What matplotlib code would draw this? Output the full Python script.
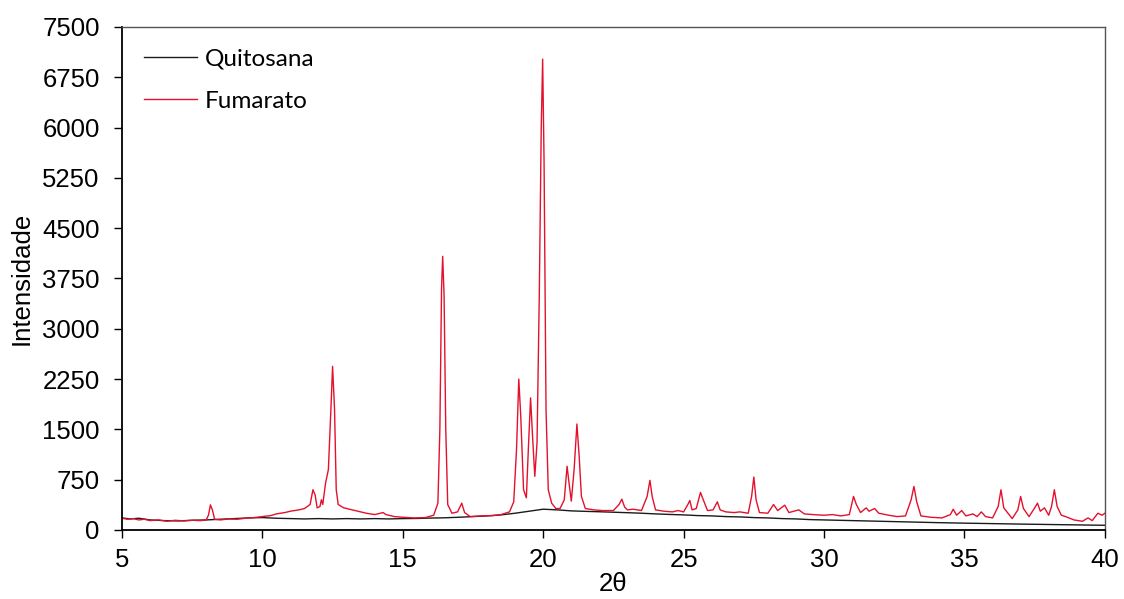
import matplotlib
matplotlib.use("Agg")
import matplotlib.pyplot as plt

# ---------------- data ----------------
fumarato_points = [
    (5.0, 175), (5.2, 160), (5.4, 170), (5.6, 150), (5.8, 160), (6.0, 140), (6.3, 150),
    (6.6, 130), (6.9, 145), (7.2, 135), (7.5, 145), (7.8, 140), (8.0, 150), (8.08, 220),
    (8.15, 375), (8.22, 300), (8.3, 160), (8.5, 150), (8.8, 165), (9.1, 160), (9.4, 175),
    (9.7, 185), (10.0, 200), (10.3, 215), (10.5, 240), (10.8, 260), (11.0, 280),
    (11.3, 300), (11.5, 320), (11.7, 380), (11.8, 600), (11.88, 520), (11.95, 330),
    (12.05, 350), (12.1, 450), (12.15, 380), (12.25, 700), (12.35, 900), (12.45, 1900),
    (12.5, 2440), (12.57, 1800), (12.63, 600), (12.7, 380), (12.9, 330), (13.1, 310),
    (13.4, 280), (13.7, 250), (14.0, 230), (14.3, 260), (14.4, 230), (14.7, 200),
    (15.0, 190), (15.4, 180), (15.8, 185), (16.1, 220), (16.25, 400), (16.32, 1500),
    (16.38, 3600), (16.42, 4080), (16.47, 3500), (16.53, 1500), (16.6, 380), (16.75, 250),
    (16.95, 270), (17.1, 400), (17.2, 260), (17.4, 200), (17.8, 210), (18.2, 215),
    (18.5, 230), (18.8, 270), (18.95, 420), (19.05, 1200), (19.13, 2250), (19.2, 1700),
    (19.3, 600), (19.4, 480), (19.47, 1200), (19.55, 1970), (19.62, 1400), (19.7, 800),
    (19.78, 1300), (19.86, 3500), (19.93, 6000), (19.98, 7020), (20.03, 5500),
    (20.1, 1800), (20.18, 600), (20.3, 400), (20.45, 320), (20.6, 320), (20.75, 450),
    (20.85, 950), (20.92, 700), (21.0, 430), (21.1, 900), (21.2, 1580), (21.28, 1100),
    (21.36, 500), (21.5, 320), (21.8, 300), (22.1, 290), (22.5, 290), (22.7, 380),
    (22.8, 460), (22.9, 340), (23.0, 300), (23.2, 310), (23.5, 290), (23.7, 500),
    (23.8, 740), (23.88, 500), (24.0, 300), (24.3, 280), (24.6, 270), (24.8, 290),
    (25.0, 270), (25.15, 380), (25.22, 440), (25.3, 300), (25.45, 320), (25.6, 560),
    (25.7, 450), (25.85, 290), (26.05, 300), (26.2, 420), (26.3, 300), (26.5, 270),
    (26.8, 260), (27.0, 270), (27.3, 250), (27.42, 500), (27.5, 790), (27.58, 450),
    (27.7, 260), (28.0, 250), (28.2, 380), (28.35, 290), (28.6, 370), (28.75, 260),
    (29.1, 300), (29.3, 240), (29.6, 230), (30.0, 220), (30.3, 230), (30.6, 210),
    (30.9, 230), (31.05, 500), (31.15, 380), (31.3, 260), (31.5, 330), (31.6, 280),
    (31.8, 320), (31.95, 250), (32.3, 220), (32.6, 200), (32.9, 210), (33.1, 450),
    (33.2, 650), (33.3, 420), (33.45, 210), (33.8, 190), (34.2, 180), (34.5, 230),
    (34.6, 310), (34.72, 220), (34.9, 290), (35.05, 210), (35.3, 240), (35.45, 200),
    (35.6, 270), (35.75, 200), (36.0, 180), (36.2, 350), (36.3, 600), (36.4, 330),
    (36.55, 250), (36.7, 170), (36.9, 300), (37.0, 500), (37.1, 320), (37.3, 200),
    (37.5, 330), (37.6, 400), (37.7, 280), (37.85, 330), (38.0, 220), (38.1, 350),
    (38.2, 600), (38.3, 350), (38.45, 220), (38.6, 200), (38.9, 150), (39.2, 130),
    (39.4, 180), (39.55, 140), (39.75, 250), (39.9, 220), (40.0, 250),
]

quitosana_points = [
    (5.0, 180), (5.3, 165), (5.6, 175), (6.0, 150), (6.5, 140), (7.0, 135), (7.5, 145),
    (8.0, 150), (8.5, 160), (9.0, 170), (9.5, 180), (10.0, 185), (10.5, 175), (11.0, 170),
    (11.5, 165), (12.0, 170), (12.5, 165), (13.0, 170), (13.5, 165), (14.0, 170),
    (14.5, 165), (15.0, 170), (15.5, 172), (16.0, 178), (16.5, 182), (17.0, 190),
    (17.5, 200), (18.0, 210), (18.5, 225), (19.0, 250), (19.5, 280), (20.0, 310),
    (20.5, 300), (21.0, 285), (21.5, 278), (22.0, 272), (22.5, 265), (23.0, 258),
    (23.5, 250), (24.0, 240), (24.5, 232), (25.0, 225), (25.5, 215), (26.0, 210),
    (26.5, 200), (27.0, 195), (27.5, 185), (28.0, 180), (28.5, 170), (29.0, 165),
    (29.5, 155), (30.0, 150), (31.0, 140), (32.0, 130), (33.0, 120), (34.0, 110),
    (35.0, 102), (36.0, 95), (37.0, 88), (38.0, 82), (39.0, 76), (40.0, 70),
]

series_labels = ["Quitosana", "Fumarato"]
x_ticks = [5, 10, 15, 20, 25, 30, 35, 40]
y_ticks = [0, 750, 1500, 2250, 3000, 3750, 4500, 5250, 6000, 6750, 7500]
x_label = "2θ"
y_label = "Intensidade"

# ---------------- figure ----------------
fig = plt.figure(figsize=(11.24, 5.99), dpi=100)
ax = fig.add_axes([0.1085, 0.1152, 0.8745, 0.8398])

qx = [p[0] for p in quitosana_points]
qy = [p[1] for p in quitosana_points]
fx = [p[0] for p in fumarato_points]
fy = [p[1] for p in fumarato_points]

ax.plot(qx, qy, color="#1a1a1a", lw=1.0, label=series_labels[0])
ax.plot(fx, fy, color="#e3112c", lw=1.0, label=series_labels[1])

ax.set_xlim(5, 40)
ax.set_ylim(0, 7500)
ax.set_xticks(x_ticks)
ax.set_yticks(y_ticks)

tick_font = dict(family="Liberation Sans", size=18.5)
ax.set_xticklabels([str(t) for t in x_ticks], **tick_font)
ax.set_yticklabels([str(t) for t in y_ticks], **tick_font)
ax.tick_params(axis="x", direction="out", length=5.5, width=1.0, color="black", pad=7.5)
ax.tick_params(axis="y", direction="out", length=6, width=1.0, color="black", pad=10)

for side in ["left", "bottom"]:
    ax.spines[side].set_color("black")
    ax.spines[side].set_linewidth(1.3)
for side in ["top", "right"]:
    ax.spines[side].set_color("#555555")
    ax.spines[side].set_linewidth(1.0)

ax.set_xlabel(x_label, family="Liberation Sans", size=18.5, labelpad=0)
ax.set_ylabel(y_label, family="Liberation Sans", size=18.5, labelpad=6)

leg = ax.legend(loc="upper left", bbox_to_anchor=(0.0, 1.0), frameon=False,
                prop=dict(family="Lato", size=17.5), handlelength=2.2,
                handletextpad=0.3, labelspacing=0.85, borderaxespad=0.5)

fig.savefig("out.png", dpi=100)
